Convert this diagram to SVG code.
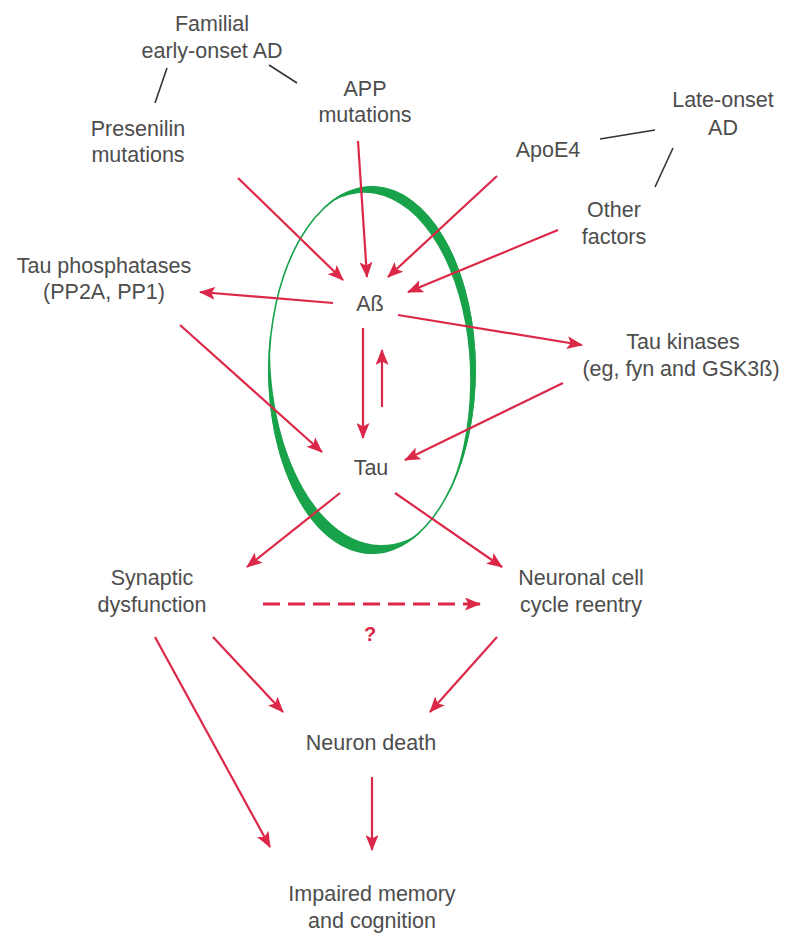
<svg xmlns="http://www.w3.org/2000/svg" width="786" height="935" viewBox="0 0 786 935">
<style>
text{font-family:"Liberation Sans",Arial,sans-serif;font-size:21.5px;fill:#4d4d4d;text-anchor:middle}
.q{fill:#dc2848;font-weight:bold;font-size:20px}
.r{stroke:#dc2848;stroke-width:2.2;fill:none;marker-end:url(#ah)}
.d{stroke:#dc2848;stroke-width:3;fill:none;stroke-dasharray:17 8;marker-end:url(#ah)}
.k{stroke:#333;stroke-width:1.6;fill:none}
.g{fill:#18a34b}
</style>
<defs>
<marker id="ah" viewBox="0 0 16 13" refX="15" refY="6.5" markerWidth="16" markerHeight="13" markerUnits="userSpaceOnUse" orient="auto">
<path d="M0,0 L16,6.5 L0,13 L3.5,6.5 Z" fill="#dc2848"/>
</marker>
</defs>
<rect width="786" height="935" fill="#fff"/>
<g id="cycle">
<ellipse cx="372" cy="370" rx="103" ry="183" fill="none" stroke="#18a34b" stroke-width="1.6"/>
<path class="g" d="M323.2,207.5 A104,184 0 0 1 445.5,500.1 A105.8,187.2 0 0 0 323.2,207.5 Z"/>
<path class="g" d="M420.8,532.5 A104,184 0 0 1 270.3,331.7 A111.6,197.4 0 0 0 420.8,532.5 Z"/>
</g>
<g id="lines">
<line class="k" x1="167" y1="68" x2="155" y2="103"/>
<line class="k" x1="269" y1="65" x2="297" y2="83"/>
<line class="k" x1="600" y1="139" x2="655" y2="130"/>
<line class="k" x1="673" y1="148" x2="655" y2="187"/>
</g>
<g id="connectors">
<line class="r" x1="238" y1="178" x2="343" y2="280"/>
<line class="r" x1="358" y1="141" x2="367" y2="277"/>
<line class="r" x1="497" y1="176" x2="388" y2="277"/>
<line class="r" x1="558" y1="230" x2="408" y2="292"/>
<line class="r" x1="333" y1="303" x2="200" y2="292"/>
<line class="r" x1="398" y1="315" x2="582" y2="345"/>
<line class="r" x1="363" y1="328" x2="363" y2="438"/>
<line class="r" x1="382" y1="407" x2="382" y2="350"/>
<line class="r" x1="180" y1="325" x2="322" y2="452"/>
<line class="r" x1="563" y1="383" x2="405" y2="460"/>
<line class="r" x1="340" y1="493" x2="247" y2="567"/>
<line class="r" x1="395" y1="493" x2="502" y2="567"/>
<line class="d" x1="263" y1="604" x2="480" y2="604"/>
<line class="r" x1="213" y1="637" x2="283" y2="712"/>
<line class="r" x1="497" y1="637" x2="430" y2="712"/>
<line class="r" x1="155" y1="637" x2="270" y2="847"/>
<line class="r" x1="372" y1="777" x2="372" y2="850"/>
</g>
<g id="familial"><text x="212" y="31">Familial</text><text x="212" y="58">early-onset AD</text></g>
<g id="app"><text x="365" y="96">APP</text><text x="365" y="122">mutations</text></g>
<g id="presenilin"><text x="138" y="136">Presenilin</text><text x="138" y="162">mutations</text></g>
<g id="lateonset"><text x="723" y="107">Late-onset</text><text x="723" y="135">AD</text></g>
<g id="apoe4"><text x="548" y="157">ApoE4</text></g>
<g id="other"><text x="614" y="217">Other</text><text x="614" y="244">factors</text></g>
<g id="phosphatases"><text x="104" y="273">Tau phosphatases</text><text x="104" y="299">(PP2A, PP1)</text></g>
<g id="abeta"><text x="370" y="311">Aß</text></g>
<g id="kinases"><text x="683" y="349">Tau kinases</text><text x="681" y="376">(eg, fyn and GSK3ß)</text></g>
<g id="tau"><text x="371" y="475">Tau</text></g>
<g id="synaptic"><text x="152" y="585">Synaptic</text><text x="152" y="612">dysfunction</text></g>
<g id="neuronal"><text x="581" y="585">Neuronal cell</text><text x="581" y="612">cycle reentry</text></g>
<g id="question"><text class="q" x="370" y="641">?</text></g>
<g id="death"><text x="371" y="750">Neuron death</text></g>
<g id="impaired"><text x="372" y="901">Impaired memory</text><text x="372" y="928">and cognition</text></g>
</svg>
